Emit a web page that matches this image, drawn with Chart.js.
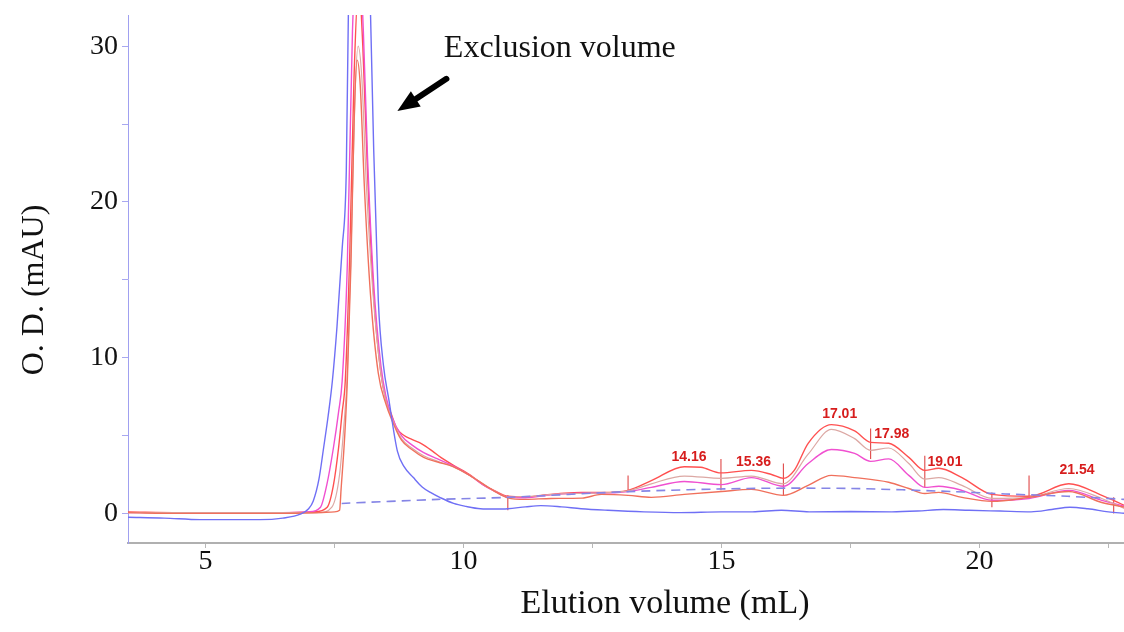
<!DOCTYPE html>
<html>
<head>
<meta charset="utf-8">
<script src="https://cdn.jsdelivr.net/npm/chart.js@4.4.1/dist/chart.umd.min.js"></script>
<style>
html,body{margin:0;padding:0;background:#fff;}
#wrap{width:1124px;height:632px;position:relative;}
</style>
</head>
<body>
<div id="wrap"><canvas id="c"></canvas></div>
<script>
// ---- data ----
const xTickValues = [5, 7.5, 10, 12.5, 15, 17.5, 20, 22.5];
const yTickValues = [0, 5, 10, 15, 20, 25, 30];

const blueX = [3.5,4.2,4.9,5.5,6.06,6.5,6.84,7.0,7.09,7.2,7.29,7.38,7.46,7.55,7.65,7.73,7.77,7.88,8.0,8.12,8.2,8.26,8.35,8.45,8.55,8.72,8.85,9.03,9.2,9.36,9.56,9.81,10.05,10.33,10.6,10.86,11.2,11.5,11.9,12.28,12.8,13.5,14.2,15.0,15.6,16.16,16.7,17.5,18.3,18.8,19.3,19.8,20.4,21.0,21.4,21.75,22.1,22.5,22.82];
const blueY = [-0.25,-0.3,-0.4,-0.4,-0.4,-0.3,-0.05,0.3,0.8,2.2,4.2,6.3,8.5,12,17,22,32,46,52,45,32,23.5,13.7,9.5,7.4,4.0,3.0,2.3,1.7,1.35,1.0,0.64,0.45,0.3,0.28,0.3,0.42,0.5,0.42,0.3,0.2,0.1,0.05,0.1,0.1,0.2,0.1,0.12,0.1,0.15,0.25,0.2,0.15,0.1,0.25,0.4,0.3,0.1,0.0];

const magX = [3.5,4.5,5.5,6.5,7.0,7.23,7.35,7.48,7.58,7.65,7.75,7.85,7.96,8.06,8.14,8.26,8.4,8.5,8.6,8.8,9.0,9.23,9.5,9.8,10.14,10.4,10.59,10.86,11.2,11.7,12.3,12.67,13.19,13.64,14.28,15.0,15.58,16.2,16.68,17.13,17.58,17.89,18.24,18.63,18.94,19.21,19.66,20.24,20.96,21.73,22.37,22.82];
const magY = [0.05,0.05,0.0,0.05,0.1,0.4,1.8,4.2,6.5,8.5,16,31,37,31,23,14.8,9.5,7.5,6.3,5.0,4.4,3.9,3.5,3.05,2.4,1.8,1.45,1.05,1.0,1.2,1.3,1.3,1.4,1.67,2.05,1.85,2.3,1.74,3.2,4.1,3.85,3.34,3.5,2.44,1.67,1.74,1.48,0.84,0.96,1.48,0.84,0.45];

const redX = [3.5,4.5,5.5,6.5,7.1,7.36,7.48,7.58,7.65,7.71,7.8,7.88,7.97,8.05,8.14,8.26,8.4,8.5,8.6,8.7,8.85,9.0,9.2,9.4,9.56,9.8,10.14,10.4,10.59,10.86,11.2,11.5,11.95,12.28,12.67,13.19,13.64,14.28,14.6,14.99,15.58,15.97,16.2,16.41,16.68,17.13,17.58,17.89,18.24,18.63,18.94,19.21,19.66,20.24,20.96,21.73,22.37,22.82];
const redY = [0.1,0.05,0.05,0.05,0.1,0.4,1.8,4.2,6.5,8.5,17,28,34,30,22,14,9,7.3,6.4,5.5,5.0,4.75,4.45,4.0,3.6,3.1,2.44,1.8,1.48,1.1,1.05,1.16,1.3,1.35,1.35,1.48,2.1,3.0,2.96,2.6,2.76,2.5,2.25,2.76,4.5,5.7,5.3,4.56,4.5,3.6,2.76,2.9,2.3,1.22,1.1,1.9,1.16,0.5];

const grayX = [3.5,4.5,5.5,6.5,7.2,7.45,7.6,7.68,7.75,7.83,7.9,7.96,8.03,8.12,8.25,8.4,8.5,8.6,8.8,9.0,9.23,9.5,9.8,10.14,10.59,10.86,11.3,11.9,12.5,13.19,13.64,14.28,15.0,15.58,16.2,16.68,17.13,17.58,17.89,18.24,18.63,18.94,19.21,19.66,20.24,20.96,21.73,22.37,22.82];
const grayY = [0.05,0.05,0.05,0.05,0.05,0.4,2.5,5.5,9,18,27,30,28,21,14,9,7.2,6.2,4.8,4.2,3.7,3.35,3.0,2.4,1.45,1.05,1.1,1.25,1.3,1.45,1.9,2.4,2.25,2.4,1.9,3.8,5.4,4.8,4.05,4.2,3.2,2.2,2.3,1.8,0.96,1.03,1.6,0.96,0.3];

const lowX = [3.5,4.5,5.5,6.5,7.2,7.5,7.6,7.63,7.7,7.75,7.82,7.88,7.94,8.0,8.08,8.2,8.35,8.5,8.6,8.8,9.0,9.23,9.5,9.8,10.14,10.59,10.86,11.2,11.7,12.3,12.67,13.19,13.64,14.28,15.0,15.58,16.2,16.68,17.13,17.58,18.24,18.63,18.94,19.21,19.66,20.24,20.96,21.73,22.37,22.82];
const lowY = [0.05,0.0,0.0,0.0,0.05,0.1,0.2,1.6,5,8.5,16,25,29.1,27.5,21,14,9,7.0,6.1,4.7,4.1,3.6,3.3,3.0,2.4,1.45,1.0,0.9,0.96,0.98,1.22,1.16,1.03,1.22,1.41,1.54,1.16,1.8,2.44,2.3,2.0,1.6,1.28,1.35,1.03,0.77,1.03,1.41,0.7,0.4];

const baseX = [7.64,9.5,10.86,13.2,15.5,17.5,19.5,20.5,21.7,22.82];
const baseY = [0.64,0.9,1.03,1.4,1.6,1.6,1.4,1.25,1.1,0.9];

const markerX  = [10.86,13.19,14.99,16.2,17.89,18.94,20.24,20.96,22.6];
const markerLo = [0.2,1.48,1.48,1.16,3.5,1.67,0.4,1.1,0.0];
const markerHi = [1.16,2.44,3.5,3.2,5.45,3.7,1.35,2.44,1.03];

const peakText = ['14.16','15.36','17.01','17.98','19.01','21.54'];
const peakLabelX = [14.37,15.62,17.29,18.3,19.33,21.89];
const peakLabelY = [3.6,3.28,6.36,5.08,3.28,2.76];

const annotationText = 'Exclusion volume';
const annotationAt = [9.62, 29.3];
const arrowFrom = [9.67, 27.9];
const arrowTo = [8.72, 25.84];

const xTitle = 'Elution volume (mL)';
const yTitle = 'O. D. (mAU)';

// ---- build ----
const pts = (xs, ys) => xs.map((v, i) => ({x: v, y: ys[i]}));
const markerPts = [];
markerX.forEach((v, i) => {
  markerPts.push({x: v, y: markerLo[i]}, {x: v, y: markerHi[i]}, {x: v, y: null});
});

const serif = '"Liberation Serif", "DejaVu Serif", serif';

function line(data, color, width, extra) {
  return Object.assign({
    data, borderColor: color, borderWidth: width, pointRadius: 0,
    cubicInterpolationMode: 'monotone', fill: false
  }, extra || {});
}

const overlay = {
  id: 'overlay',
  afterDatasetsDraw(chart) {
    const {ctx, scales: {x, y}} = chart;
    ctx.save();
    // peak labels
    ctx.font = 'bold 14px "Liberation Sans", Arial, sans-serif';
    ctx.fillStyle = '#d71d1d';
    ctx.textAlign = 'center';
    ctx.textBaseline = 'middle';
    peakText.forEach((t, i) => {
      ctx.fillText(t, x.getPixelForValue(peakLabelX[i]), y.getPixelForValue(peakLabelY[i]));
    });
    // annotation
    ctx.font = '32px ' + serif;
    ctx.fillStyle = '#111';
    ctx.textAlign = 'left';
    ctx.textBaseline = 'alphabetic';
    ctx.fillText(annotationText, x.getPixelForValue(annotationAt[0]), y.getPixelForValue(annotationAt[1]));
    // arrow
    const x1 = x.getPixelForValue(arrowFrom[0]), y1 = y.getPixelForValue(arrowFrom[1]);
    const x2 = x.getPixelForValue(arrowTo[0]), y2 = y.getPixelForValue(arrowTo[1]);
    const ang = Math.atan2(y2 - y1, x2 - x1);
    const hl = 22, hw = 9;
    const bx = x2 - hl * Math.cos(ang), by = y2 - hl * Math.sin(ang);
    ctx.strokeStyle = '#000';
    ctx.lineWidth = 6;
    ctx.lineCap = 'round';
    ctx.beginPath(); ctx.moveTo(x1, y1); ctx.lineTo(bx, by); ctx.stroke();
    ctx.fillStyle = '#000';
    ctx.beginPath();
    ctx.moveTo(x2, y2);
    ctx.lineTo(bx + hw * Math.sin(ang), by - hw * Math.cos(ang));
    ctx.lineTo(bx - hw * Math.sin(ang), by + hw * Math.cos(ang));
    ctx.closePath(); ctx.fill();
    ctx.restore();
  },
  afterDraw(chart) {
    const {ctx, chartArea} = chart;
    ctx.save();
    ctx.fillStyle = '#111';
    ctx.font = '34px ' + serif;
    ctx.textAlign = 'center';
    ctx.textBaseline = 'middle';
    ctx.fillText(xTitle, 665, 604);
    ctx.font = '32px ' + serif;
    ctx.translate(35, 290);
    ctx.rotate(-Math.PI / 2);
    ctx.fillText(yTitle, 0, 0);
    ctx.restore();
  }
};

new Chart(document.getElementById('c'), {
  type: 'line',
  data: {
    datasets: [
      line(pts(baseX, baseY), '#8585e6', 1.6, {borderDash: [9, 6], cubicInterpolationMode: 'default', tension: 0.3}),
      line(pts(blueX, blueY), '#6f6ff5', 1.4),
      line(pts(lowX, lowY), '#f0705c', 1.4),
      line(pts(grayX, grayY), '#dca8a4', 1.2),
      line(pts(magX, magY), '#f050d0', 1.4),
      line(pts(redX, redY), '#ff5050', 1.4),
      line(markerPts, '#e04848', 1.1, {cubicInterpolationMode: 'default', tension: 0, spanGaps: false})
    ]
  },
  options: {
    responsive: true,
    maintainAspectRatio: false,
    animation: false,
    events: [],
    layout: {padding: {top: 15, right: 0, left: 0, bottom: 0}},
    plugins: {legend: {display: false}, tooltip: {enabled: false}},
    scales: {
      x: {
        type: 'linear', min: 3.5, max: 22.8,
        afterBuildTicks: s => { s.ticks = xTickValues.map(v => ({value: v})); },
        afterFit: s => { s.height = 89; s.paddingLeft = 0; s.paddingRight = 0; },
        ticks: {
          autoSkip: false, maxRotation: 0, padding: -3,
          color: '#111', font: {family: serif, size: 28},
          callback: v => (v % 5 === 0 ? String(v) : '')
        },
        grid: {drawOnChartArea: false, drawTicks: true, tickLength: 5, color: '#b8b8b8'},
        border: {display: true, color: '#b0b0b0', width: 2}
      },
      y: {
        type: 'linear', min: -1.9, max: 32,
        afterBuildTicks: s => { s.ticks = yTickValues.map(v => ({value: v})); },
        afterFit: s => { s.width = 128; s.paddingTop = 0; s.paddingBottom = 0; },
        ticks: {
          autoSkip: false, padding: 4,
          color: '#111', font: {family: serif, size: 28},
          callback: v => (v % 10 === 0 ? String(v) : '')
        },
        grid: {drawOnChartArea: false, drawTicks: true, tickLength: 6, color: '#a8a8f0'},
        border: {display: true, color: '#a0a0f0', width: 1}
      }
    }
  },
  plugins: [overlay]
});
</script>
</body>
</html>
